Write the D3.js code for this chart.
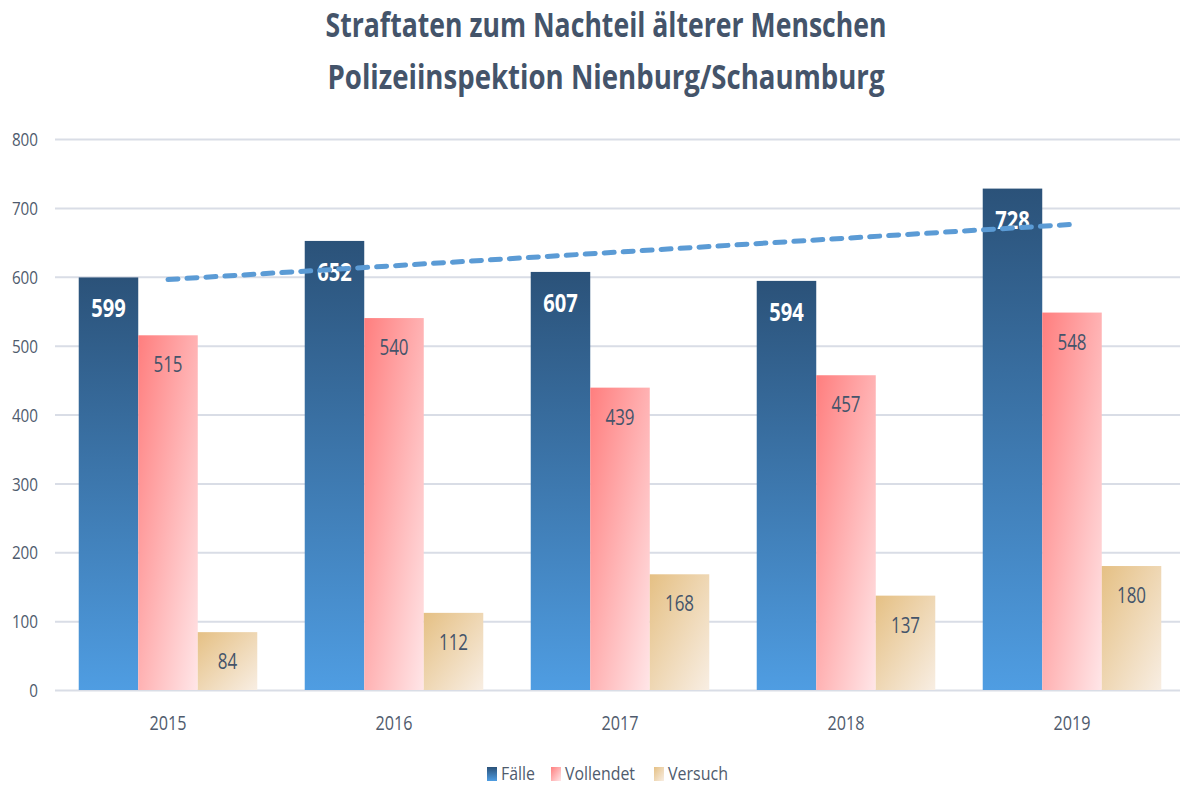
<!DOCTYPE html>
<html><head><meta charset="utf-8">
<script src="https://cdn.jsdelivr.net/npm/d3@7"></script>
<style>body{margin:0;background:#fff}svg{display:block}</style>
</head><body>
<svg id="c" width="1180" height="787"></svg>
<script>
const categories = ["2015","2016","2017","2018","2019"];
const faelle = [599,652,607,594,728];
const vollendet = [515,540,439,457,548];
const versuch = [84,112,168,137,180];
const seriesNames = ["Fälle","Vollendet","Versuch"];
const yTicks = [0,100,200,300,400,500,600,700,800];
const titleLines = ["Straftaten zum Nachteil älterer Menschen","Polizeiinspektion Nienburg/Schaumburg"];

const W=1180,H=787;
const svg=d3.select("#c");
const FONT="'Open Sans', 'Noto Sans', sans-serif";
const TXT="#44546A";
const AX="#4F5B6D";
const m={left:55,right:-5,top:139,bottom:97};
const x0=d3.scaleBand().domain(categories).range([m.left,W-m.right]).paddingInner(0.21).paddingOuter(0.105);
const x1=d3.scaleBand().domain(seriesNames).range([0,x0.bandwidth()]).padding(0);
const y=d3.scaleLinear().domain([0,800]).range([H-m.bottom,m.top]);

const defs=svg.append("defs");
function grad(id,x2,y2,stops){
  const g=defs.append("linearGradient").attr("id",id).attr("x1",0).attr("y1",0).attr("x2",x2).attr("y2",y2);
  stops.forEach(s=>g.append("stop").attr("offset",s[0]).attr("stop-color",s[1]));
}
grad("gF",0,1,[[0,"#2B5279"],[1,"#4F9DE2"]]);
grad("gV",1,1,[[0,"#FF7E7E"],[1,"#FFE6E8"]]);
grad("gS",1,1,[[0,"#E5C084"],[1,"#F8EEE3"]]);
const fills={"Fälle":"url(#gF)","Vollendet":"url(#gV)","Versuch":"url(#gS)"};

// title
titleLines.forEach((t,i)=>{
  svg.append("text").attr("x",606).attr("y",37+i*52).attr("text-anchor","middle")
    .attr("font-family",FONT).attr("font-weight","bold").attr("font-size",34)
    .attr("fill","#44546A").attr("textLength",i===0?561:557).attr("lengthAdjust","spacingAndGlyphs").text(t);
});

// grid
const yAxis=d3.axisLeft(y).tickValues(yTicks).tickSize(-(W-m.left-m.right)).tickPadding(17).tickFormat(d3.format("d"));
const ga=svg.append("g").attr("transform",`translate(${m.left},0)`).call(yAxis);
ga.select(".domain").remove();
ga.selectAll(".tick line").attr("stroke","#D9DDE6").attr("stroke-width",2);
ga.selectAll(".tick text").attr("font-family",FONT).attr("font-size",19).attr("fill",AX)
  .attr("dy","0.35em")
  .attr("textLength",d=>String(d).length*8.7).attr("lengthAdjust","spacingAndGlyphs");

// bars
const data=categories.map((c,i)=>({cat:c,vals:[faelle[i],vollendet[i],versuch[i]]}));
const groups=svg.append("g").selectAll("g").data(data).join("g").attr("transform",d=>`translate(${x0(d.cat)},0)`);
groups.selectAll("rect").data(d=>d.vals.map((v,j)=>({s:seriesNames[j],v}))).join("rect")
  .attr("x",d=>x1(d.s)).attr("width",x1.bandwidth()).attr("y",d=>y(d.v)).attr("height",d=>y(0)-y(d.v))
  .attr("fill",d=>fills[d.s]);
groups.selectAll("text").data(d=>d.vals.map((v,j)=>({s:seriesNames[j],v}))).join("text")
  .attr("x",d=>x1(d.s)+x1.bandwidth()/2).attr("y",d=>y(d.v)+(d.s==="Fälle"?40:37))
  .attr("text-anchor","middle").attr("font-family",FONT)
  .attr("font-size",d=>d.s==="Fälle"?25:21).attr("font-weight",d=>d.s==="Fälle"?"bold":"normal")
  .attr("fill",d=>d.s==="Fälle"?"#fff":TXT)
  .attr("textLength",d=>String(d.v).length*(d.s==="Fälle"?11.5:9.7)).attr("lengthAdjust","spacingAndGlyphs")
  .text(d=>d.v);

// trendline (linear regression of Fälle)
const xs=faelle.map((_,i)=>i+1), mx=d3.mean(xs), my=d3.mean(faelle);
const slope=d3.sum(xs.map((xv,i)=>(xv-mx)*(faelle[i]-my)))/d3.sum(xs.map(xv=>(xv-mx)**2));
const icpt=my-slope*mx;
const cx=c=>x0(c)+x0.bandwidth()/2;
const tl=[{c:categories[0],v:icpt+slope*1},{c:categories[4],v:icpt+slope*5}];
svg.append("path").attr("d",d3.line().x(d=>cx(d.c)).y(d=>y(d.v))(tl))
  .attr("stroke","#5B9BD5").attr("stroke-width",5).attr("fill","none")
  .attr("stroke-dasharray","10,9").attr("stroke-linecap","round");

// x axis labels
const xa=svg.append("g").attr("transform",`translate(0,${y(0)})`).call(d3.axisBottom(x0).tickSize(0).tickPadding(0));
xa.select(".domain").remove();
xa.selectAll(".tick text").attr("font-family",FONT).attr("font-size",20).attr("fill",AX)
  .attr("dy",null).attr("y",40).attr("textLength",37).attr("lengthAdjust","spacingAndGlyphs");

// legend
const leg=[{s:"Fälle",x:487,tw:34},{s:"Vollendet",x:551,tw:70},{s:"Versuch",x:654,tw:60}];
const lg=svg.append("g");
leg.forEach(l=>{
  lg.append("rect").attr("x",l.x).attr("y",767).attr("width",10).attr("height",14).attr("fill",fills[l.s]);
  lg.append("text").attr("x",l.x+14).attr("y",780).attr("font-family",FONT).attr("font-size",19)
    .attr("fill",AX).attr("textLength",l.tw).attr("lengthAdjust","spacingAndGlyphs").text(l.s);
});
</script>
</body></html>
